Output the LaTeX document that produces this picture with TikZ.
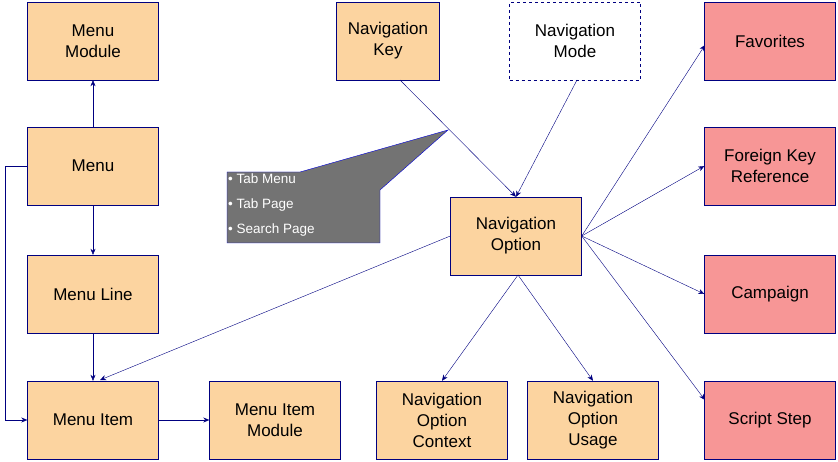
\documentclass[tikz,border=0pt]{standalone}
\usepackage{fontspec}
\setmainfont{Liberation Sans}
\begin{document}
\begin{tikzpicture}[x=1pt,y=-1pt,
  box/.style={draw=navy,fill=peach,minimum width=131pt,minimum height=78pt,inner sep=0pt,align=center,font=\fontsize{17}{21}\selectfont},
  pbox/.style={box,fill=pinkc},
  arr/.style={draw=navy,-{Stealth[length=6pt,width=5pt]}}]
\definecolor{navy}{RGB}{0,0,128}
\definecolor{peach}{RGB}{252,212,160}
\definecolor{pinkc}{RGB}{247,150,150}
\usetikzlibrary{arrows.meta}
\useasboundingbox (0,0) rectangle (838,462);
\node[box] (mm) at (93,41) {Menu\\Module};
\node[box] (m) at (93,166) {Menu};
\node[box] (ml) at (93,294) {Menu Line};
\node[box] (mi) at (93,420) {Menu Item};
\node[box] (mim) at (275,420) {Menu Item\\Module};
\node[box,minimum width=103pt] (nk) at (388,41) {Navigation\\Key};
\node[box,fill=white,dashed] (nm) at (575,41) {Navigation\\Mode};
\node[box] (no) at (516,236) {Navigation\\Option};
\node[box] (nc) at (442,420) {Navigation\\Option\\Context};
\node[box] (nu) at (593,420) {Navigation\\Option\\Usage};
\node[pbox] (fav) at (770,41) {Favorites};
\node[pbox] (fk) at (770,166) {Foreign Key\\Reference};
\node[pbox] (cp) at (770,294) {Campaign};
\node[pbox] (ss) at (770,420) {Script Step};
\filldraw[draw=blue!70!navy,fill=black!55] (227,172)--(300,172)--(448,130)--(380,190)--(380,243)--(227,243)--cycle;
\node[anchor=north west,text=white,align=left,inner sep=0pt,font=\fontsize{13.5}{25}\selectfont] (co) at (228,174) {• Tab Menu\\• Tab Page\\• Search Page};
\draw[arr] (m) -- (mm);
\draw[arr] (m) -- (ml);
\draw[arr] (ml) -- (mi);
\draw[arr] (m.west) -- (5,166) -- (5,420) -- (mi.west);
\draw[arr] (mi) -- (mim);
\draw[arr] (400,80) -- (no.north);
\draw[arr] (577,80) -- (no.north);
\draw[arr] (no.west) -- (100,380);
\draw[arr] (518,275) -- (nc.north);
\draw[arr] (518,275) -- (nu.north);
\draw[arr] (no.east) -- (705,45);
\draw[arr] (no.east) -- (fk.west);
\draw[arr] (no.east) -- (cp.west);
\draw[arr] (no.east) -- (705,400);
\end{tikzpicture}
\end{document}
